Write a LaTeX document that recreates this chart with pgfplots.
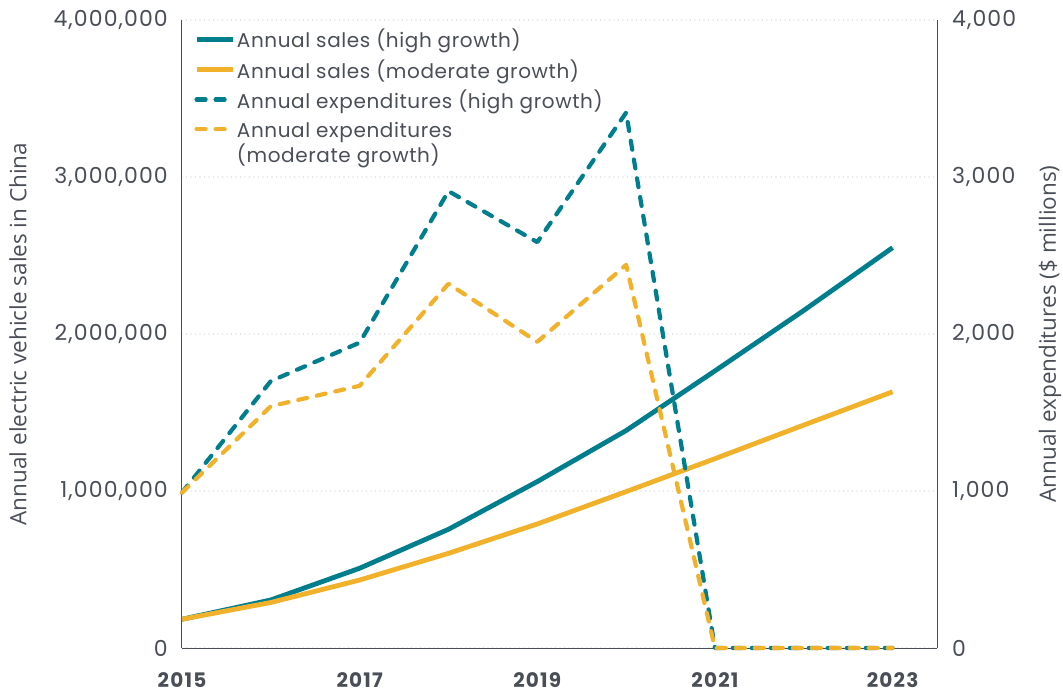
\documentclass[border=0pt]{standalone}
\usepackage{fontspec}
\setmainfont{Poppins}
\newfontfamily\labelfont{Open Sans}
\usepackage{pgfplots}
\pgfplotsset{compat=1.18}
\definecolor{cteal}{HTML}{007E8D}
\definecolor{cyellow}{HTML}{F2B12B}
\definecolor{tgray}{HTML}{4A4F57}
\definecolor{ggray}{HTML}{C8C8C8}
\pgfplotstableread{
year high moderate
2015 183000 183000
2016 306000 290000
2017 508000 433000
2018 756000 603000
2019 1060000 790000
2020 1385000 996000
2021 1765000 1206000
2022 2150000 1420000
2023 2550000 1632000
}\sales
\pgfplotstableread{
year high moderate
2015 990 990
2016 1700 1540
2017 1945 1670
2018 2910 2320
2019 2585 1950
2020 3410 2440
2021 0 0
2022 0 0
2023 0 0
}\expend
\begin{document}
\begin{tikzpicture}
\path[use as bounding box] (-182bp,-46bp) rectangle (881bp,648bp);
\pgfplotsset{
  common/.style={
    scale only axis, width=755bp, height=628bp,
    xmin=2015, xmax=2023.5,
    major tick length=0pt,
    scaled x ticks=false, scaled y ticks=false,
    axis line style={tgray, line width=1bp},
    tick label style={text=tgray, font=\fontsize{22bp}{26bp}\selectfont\addfontfeature{LetterSpace=5}},
    /pgf/number format/assume math mode=true,
    label style={text=tgray, font=\labelfont\fontsize{22.5bp}{26bp}\selectfont},
  }
}
\begin{axis}[common,
  ymin=0, ymax=4000000,
  axis x line*=bottom, axis y line*=left,
  xtick={2015,2017,2019,2021,2023},
  xticklabels={2015,2017,2019,2021,2023},
  xticklabel style={font=\bfseries\fontsize{20bp}{22bp}\selectfont\addfontfeature{LetterSpace=6}, inner sep=0pt, anchor=north, yshift=-24bp},
  ytick={0,1000000,2000000,3000000,4000000},
  yticklabels={0,{1,000,000},{2,000,000},{3,000,000},{4,000,000}},
  yticklabel style={inner sep=0pt, anchor=east, xshift=-14bp},
  ymajorgrids,
  grid style={ggray, line width=1.2bp, line cap=round, dash pattern=on 0bp off 4.5bp},
  ylabel={Annual electric vehicle sales in China},
  ylabel style={at={(axis description cs:-0.2172,0.5)}, anchor=center},
]
\addplot[cteal, line width=4.8bp, line join=round] table[x=year, y=high] {\sales};
\addplot[cyellow, line width=4.8bp, line join=round] table[x=year, y=moderate] {\sales};
\end{axis}
\begin{axis}[common,
  ymin=0, ymax=4000,
  axis x line=none, axis y line*=right,
  ytick={0,1000,2000,3000,4000},
  yticklabels={0,{1,000},{2,000},{3,000},{4,000}},
  yticklabel style={inner sep=0pt, anchor=west, xshift=15bp},
  ylabel={Annual expenditures (\$ millions)},
  ylabel style={at={(axis description cs:1.1497,0.5)}, anchor=center, rotate=0},
  clip=false,
  legend image code/.code={\draw[#1] (0bp,0bp) -- (36bp,0bp);},
  legend cell align=left,
  legend style={at={(axis description cs:0,1)}, anchor=north west, xshift=9bp, yshift=-5bp,
    draw=none, fill=none, text=tgray, font=\fontsize{20bp}{25bp}\selectfont\addfontfeature{LetterSpace=3},
    row sep=6bp,
    /tikz/every even column/.append style={column sep=4bp}},
]
\addlegendimage{cteal, line width=4.8bp}
\addlegendentry{Annual sales (high growth)}
\addlegendimage{cyellow, line width=4.8bp}
\addlegendentry{Annual sales (moderate growth)}
\addplot[cteal, line width=4.2bp, line cap=round, line join=round, dash pattern=on 9bp off 10bp] table[x=year, y=high] {\expend};
\addlegendentry{Annual expenditures (high growth)}
\addplot[cyellow, line width=4.2bp, line cap=round, line join=round, dash pattern=on 9bp off 10bp] table[x=year, y=moderate] {\expend};
\addlegendentry{\begin{tabular}[t]{@{}l@{}}Annual expenditures\\[-1bp](moderate growth)\end{tabular}}
\end{axis}
\end{tikzpicture}
\end{document}
